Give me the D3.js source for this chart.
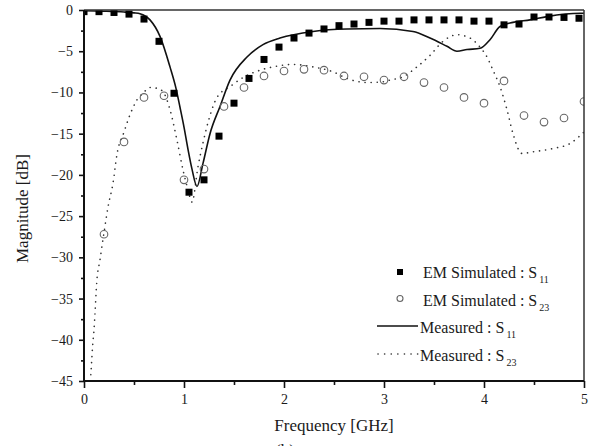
<!DOCTYPE html>
<html>
<head>
<meta charset="utf-8">
<script src="https://cdn.jsdelivr.net/npm/d3@7/dist/d3.min.js"></script>
<style>
  html, body { margin: 0; padding: 0; background: #fff; }
  svg { display: block; }
  text { font-family: "Liberation Serif", "Times New Roman", serif; fill: #1a1a1a; }
</style>
</head>
<body>
<svg id="chart" width="591" height="446"></svg>
<script>
// ---- Data ----
const simS11Freq = [0.0, 0.15, 0.3, 0.45, 0.6, 0.75, 0.9, 1.05, 1.2, 1.35, 1.5, 1.65, 1.8, 1.95,
  2.1, 2.25, 2.4, 2.55, 2.7, 2.85, 3.0, 3.15, 3.3, 3.45, 3.6, 3.75, 3.9, 4.05, 4.2, 4.35, 4.5, 4.65, 4.8, 4.95];
const simS11Mag = [-0.2, -0.2, -0.3, -0.5, -1.1, -3.8, -10.1, -22.1, -20.6, -15.3, -11.3, -8.3, -6.0, -4.5,
  -3.4, -2.8, -2.3, -1.9, -1.7, -1.5, -1.35, -1.35, -1.2, -1.2, -1.2, -1.2, -1.35, -1.35, -1.8, -1.7, -0.85, -0.85, -0.9, -1.0];

const simS23Freq = [0.2, 0.4, 0.6, 0.8, 1.0, 1.2, 1.4, 1.6, 1.8, 2.0, 2.2, 2.4, 2.6, 2.8, 3.0,
  3.2, 3.4, 3.6, 3.8, 4.0, 4.2, 4.4, 4.6, 4.8, 5.0];
const simS23Mag = [-27.2, -16.0, -10.6, -10.4, -20.6, -19.3, -11.7, -9.4, -8.0, -7.4, -7.2, -7.3, -8.0, -8.1, -8.5,
  -8.1, -8.8, -9.4, -10.6, -11.3, -8.6, -12.8, -13.6, -13.1, -11.1];

const measS11Freq = [0.0, 0.2, 0.4, 0.5, 0.56, 0.66, 0.76, 0.86, 0.92, 0.96, 1.0, 1.04, 1.08, 1.13, 1.19, 1.26, 1.36, 1.46,
  1.63, 1.79, 1.96, 2.29, 2.63, 2.96, 3.29, 3.46, 3.63, 3.73, 3.83, 3.96, 4.06, 4.16, 4.29, 4.46, 4.63, 4.96, 5.0];
const measS11Mag = [-0.1, -0.15, -0.25, -0.35, -0.45, -1.2, -3.2, -6.9, -9.5, -11.8, -14.2, -16.9, -19.3, -21.4, -18.6, -15.0, -11.7, -8.5,
  -5.7, -4.2, -3.4, -2.6, -2.3, -2.25, -2.6, -3.4, -4.4, -5.0, -4.8, -4.65, -3.6, -2.0, -1.5, -1.2, -0.8, -0.4, -0.4];

const measS23Freq = [0.065, 0.077, 0.087, 0.1, 0.11, 0.127, 0.16, 0.2, 0.24, 0.29, 0.33, 0.4, 0.46, 0.53, 0.59, 0.66, 0.73, 0.79,
  0.86, 0.93, 0.99, 1.04, 1.08, 1.14, 1.19, 1.26, 1.33, 1.46, 1.59, 1.76, 1.89, 2.09, 2.29, 2.49, 2.63, 2.83, 2.99,
  3.06, 3.19, 3.33, 3.46, 3.59, 3.73, 3.86, 3.96, 4.03, 4.09, 4.16, 4.23, 4.29, 4.38, 4.49, 4.69, 4.86, 5.0];
const measS23Mag = [-45, -42.5, -40.6, -38.8, -36.8, -33.1, -30.3, -27.0, -23.9, -21.0, -17.5, -14.8, -12.7, -10.9, -10.1, -9.4, -9.5, -9.9,
  -12.1, -15.8, -19.4, -21.8, -23.3, -19.0, -16.1, -12.8, -10.6, -9.3, -8.2, -7.3, -6.9, -6.6, -6.9, -7.5, -8.3, -8.8, -8.7,
  -8.5, -8.1, -6.9, -5.5, -3.8, -3.0, -3.4, -4.5, -5.7, -7.3, -9.3, -12.1, -15.0, -17.4, -17.2, -16.8, -16.2, -14.8];

const xTicks = [0, 1, 2, 3, 4, 5];
const xMinorTicks = [0.5, 1.5, 2.5, 3.5, 4.5];
const yTicks = [0, -5, -10, -15, -20, -25, -30, -35, -40, -45];
const yMinorTicks = [-2.5, -7.5, -12.5, -17.5, -22.5, -27.5, -32.5, -37.5, -42.5];

const legendLabels = [
  { main: "EM Simulated : S", sub: "11" },
  { main: "EM Simulated : S", sub: "23" },
  { main: "Measured : S", sub: "11" },
  { main: "Measured : S", sub: "23" }
];

// ---- Layout ----
const svg = d3.select("#chart");
const L = 84, R = 584, T = 10, B = 381;
const x = d3.scaleLinear().domain([0, 5]).range([L, R]);
const y = d3.scaleLinear().domain([-45, 0]).range([B, T]);

svg.append("rect").attr("width", 591).attr("height", 446).attr("fill", "#fff");

svg.append("defs").append("clipPath").attr("id", "plotclip")
  .append("rect").attr("x", L).attr("y", T).attr("width", R - L).attr("height", B - T);

const plot = svg.append("g").attr("clip-path", "url(#plotclip)");

const zip = (xs, ys) => xs.map((f, i) => [f, ys[i]]);

const line = d3.line().x(d => x(d[0])).y(d => y(d[1])).curve(d3.curveMonotoneX);

// Measured S23 dotted
plot.append("path")
  .datum(zip(measS23Freq, measS23Mag))
  .attr("d", line)
  .attr("fill", "none")
  .attr("stroke", "#333")
  .attr("stroke-width", 1.6)
  .attr("stroke-linecap", "round")
  .attr("stroke-dasharray", "0.1,6");

// Measured S11 solid
plot.append("path")
  .datum(zip(measS11Freq, measS11Mag))
  .attr("d", line)
  .attr("fill", "none")
  .attr("stroke", "#111")
  .attr("stroke-width", 1.6);

// Sim S23 circles
plot.selectAll("circle.s23")
  .data(zip(simS23Freq, simS23Mag))
  .enter().append("circle")
  .attr("class", "s23")
  .attr("cx", d => x(d[0]))
  .attr("cy", d => y(d[1]))
  .attr("r", 3.8)
  .attr("fill", "none")
  .attr("stroke", "#666")
  .attr("stroke-width", 1.1);

// Sim S11 squares
const sq = 7;
plot.selectAll("rect.s11")
  .data(zip(simS11Freq, simS11Mag))
  .enter().append("rect")
  .attr("class", "s11")
  .attr("x", d => x(d[0]) - sq / 2)
  .attr("y", d => y(d[1]) - sq / 2)
  .attr("width", sq)
  .attr("height", sq)
  .attr("fill", "#000");

// Frame (top / right)
svg.append("line").attr("x1", L).attr("x2", R).attr("y1", T).attr("y2", T)
  .attr("stroke", "#333").attr("stroke-width", 1.5);
svg.append("line").attr("x1", R).attr("x2", R).attr("y1", T).attr("y2", B)
  .attr("stroke", "#333").attr("stroke-width", 1.5);

// Axes
const yAxis = svg.append("g").attr("transform", `translate(${L},0)`)
  .call(d3.axisLeft(y).tickValues(yTicks).tickSize(5).tickPadding(6).tickFormat(d3.format("d")));
const yMinor = svg.append("g").attr("transform", `translate(${L},0)`)
  .call(d3.axisLeft(y).tickValues(yMinorTicks).tickSize(3).tickFormat(""));
const xAxis = svg.append("g").attr("transform", `translate(0,${B})`)
  .call(d3.axisBottom(x).tickValues(xTicks).tickSize(7).tickPadding(6).tickFormat(d3.format("d")));
const xMinor = svg.append("g").attr("transform", `translate(0,${B})`)
  .call(d3.axisBottom(x).tickValues(xMinorTicks).tickSize(4).tickFormat(""));

[yAxis, yMinor, xAxis, xMinor].forEach(g => {
  g.select(".domain").attr("stroke", "#111").attr("stroke-width", 2);
  g.selectAll(".tick line").attr("stroke", "#111").attr("stroke-width", 1.6);
  g.selectAll("text").attr("font-family", "Liberation Serif, Times New Roman, serif")
    .attr("font-size", 14).attr("fill", "#1a1a1a");
});
yMinor.select(".domain").remove();
xMinor.select(".domain").remove();
yAxis.select(".domain").attr("d", `M0,${T}V${B}`);
xAxis.select(".domain").attr("d", `M${L},0H${R}`);

// Axis titles
svg.append("text")
  .attr("x", (L + R) / 2).attr("y", 431)
  .attr("text-anchor", "middle")
  .attr("font-size", 17)
  .text("Frequency [GHz]");

svg.append("text")
  .attr("transform", `translate(28,${(T + B) / 2 + 13}) rotate(-90)`)
  .attr("text-anchor", "middle")
  .attr("font-size", 17)
  .text("Magnitude [dB]");

svg.append("text")
  .attr("x", 285).attr("y", 456)
  .attr("text-anchor", "middle")
  .attr("font-size", 17)
  .text("(b)");

// Legend
const legRows = [278, 305.5, 333, 360.5];
const lg = svg.append("g");
lg.append("rect").attr("x", 397).attr("y", legRows[0] - 9).attr("width", 6).attr("height", 6).attr("fill", "#000");
lg.append("circle").attr("cx", 400).attr("cy", legRows[1] - 7).attr("r", 3).attr("fill", "none")
  .attr("stroke", "#666").attr("stroke-width", 1.1);
lg.append("line").attr("x1", 377).attr("x2", 418).attr("y1", legRows[2] - 7).attr("y2", legRows[2] - 7)
  .attr("stroke", "#111").attr("stroke-width", 1.6);
lg.append("line").attr("x1", 378).attr("x2", 418).attr("y1", legRows[3] - 6.5).attr("y2", legRows[3] - 6.5)
  .attr("stroke", "#333").attr("stroke-width", 1.6).attr("stroke-linecap", "round").attr("stroke-dasharray", "0.1,6.5");

legendLabels.forEach((lab, i) => {
  const t = lg.append("text")
    .attr("x", i < 2 ? 423 : 420)
    .attr("y", legRows[i])
    .attr("font-size", 16);
  t.append("tspan").text(lab.main);
  t.append("tspan").attr("dx", 2).attr("dy", 5).attr("font-size", 10).text(lab.sub);
});
</script>
</body>
</html>
